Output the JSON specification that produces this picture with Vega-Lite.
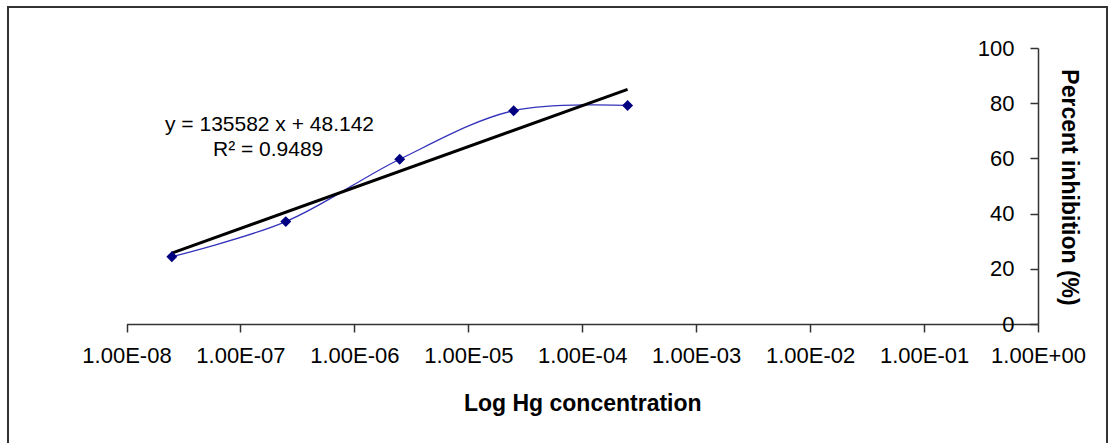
{
  "$schema": "https://vega.github.io/schema/vega-lite/v6.json",
  "width": 1099,
  "height": 440,
  "autosize": {"type": "none"},
  "padding": {"left": 8, "top": 7, "right": 4, "bottom": 0},
  "background": "white",
  "config": {
    "view": {"stroke": "#333333", "strokeWidth": 2},
    "font": "Liberation Sans"
  },
  "data": {
    "values": [
      {"series": "obs", "x": 2.5e-8, "y": 24.4},
      {"series": "obs", "x": 2.5e-7, "y": 37.1},
      {"series": "obs", "x": 2.5e-6, "y": 59.7},
      {"series": "obs", "x": 2.5e-5, "y": 77.3},
      {"series": "obs", "x": 2.5e-4, "y": 79.2},
      {"series": "trend", "x": 2.5e-8, "y": 25.7},
      {"series": "trend", "x": 2.5e-4, "y": 85.0},
      {"series": "label", "x": 1.8e-7, "y": 72.2, "text": "y = 135582 x + 48.142"},
      {"series": "label", "x": 1.75e-7, "y": 62.9, "text": "R² = 0.9489"}
    ]
  },
  "encoding": {
    "x": {
      "field": "x",
      "type": "quantitative",
      "scale": {"type": "log", "domain": [1e-8, 1], "range": [118.5, 1030], "nice": false},
      "axis": {
        "orient": "bottom",
        "offset": -123,
        "values": [1e-8, 1e-7, 1e-6, 1e-5, 1e-4, 1e-3, 1e-2, 1e-1, 1],
        "labelExpr": "'1.00E' + (datum.value < 0.5 ? '-' : '+') + (abs(round(log(datum.value)/LN10)) < 10 ? '0' : '') + abs(round(log(datum.value)/LN10))",
        "grid": false,
        "domainColor": "#333333",
        "domainWidth": 1.5,
        "tickColor": "#333333",
        "tickWidth": 1.5,
        "tickSize": 8,
        "labelPadding": 13,
        "labelFontSize": 22,
        "labelColor": "#000000",
        "labelFont": "Liberation Sans",
        "labelFlush": false,
        "labelOverlap": false,
        "title": "Log Hg concentration",
        "titleFont": "Liberation Sans",
        "titleFontSize": 23,
        "titleFontWeight": "bold",
        "titleColor": "#000000",
        "titleBaseline": "alphabetic",
        "titleY": 86
      }
    },
    "y": {
      "field": "y",
      "type": "quantitative",
      "scale": {"domain": [0, 100], "range": [317, 41], "nice": false},
      "axis": {
        "orient": "left",
        "offset": -1030,
        "values": [0, 20, 40, 60, 80, 100],
        "grid": false,
        "domainColor": "#333333",
        "domainWidth": 1.5,
        "tickColor": "#333333",
        "tickWidth": 1.5,
        "tickSize": 8,
        "labelPadding": 16,
        "labelFontSize": 22,
        "labelColor": "#000000",
        "labelFont": "Liberation Sans",
        "title": "Percent inhibition (%)",
        "titleFont": "Liberation Sans",
        "titleFontSize": 23,
        "titleFontWeight": "bold",
        "titleColor": "#000000",
        "titleAngle": 90,
        "titleAlign": "center",
        "titleBaseline": "middle",
        "titleX": 30,
        "titleY": 180
      }
    }
  },
  "layer": [
    {
      "transform": [{"filter": "datum.series === 'obs'"}],
      "mark": {"type": "line", "interpolate": "catmull-rom", "color": "#3333bb", "strokeWidth": 1.3}
    },
    {
      "transform": [{"filter": "datum.series === 'trend'"}],
      "mark": {"type": "line", "color": "#000000", "strokeWidth": 3}
    },
    {
      "transform": [{"filter": "datum.series === 'obs'"}],
      "mark": {"type": "point", "shape": "diamond", "filled": true, "size": 120, "color": "#000080", "opacity": 1}
    },
    {
      "transform": [{"filter": "datum.series === 'label'"}],
      "mark": {"type": "text", "align": "center", "baseline": "middle", "fontSize": 21, "font": "Liberation Sans", "color": "#000000"},
      "encoding": {"text": {"field": "text"}}
    }
  ]
}
